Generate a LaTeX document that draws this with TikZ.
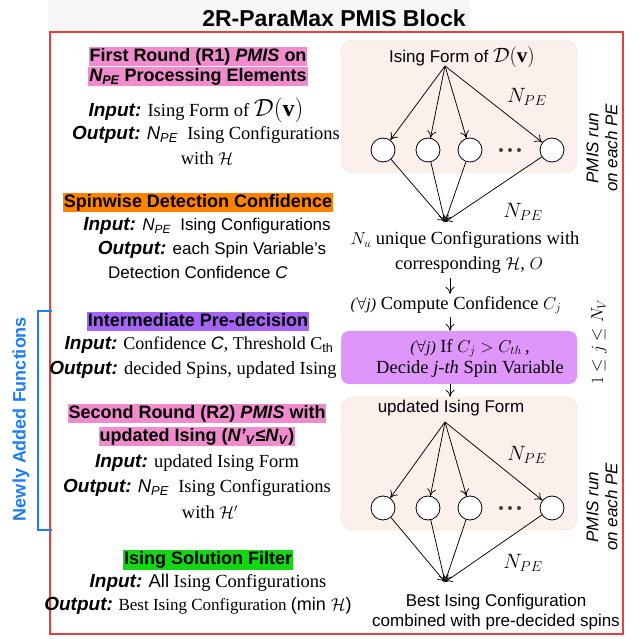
\documentclass[tikz,border=0pt]{standalone}
\usepackage{amsmath}
\usepackage{amssymb}
\usepackage{fontspec}
\setmainfont{Liberation Serif}
\setsansfont{Liberation Sans}
\usepackage{tikz}
\usetikzlibrary{arrows, arrows.meta}
\definecolor{hlpink}{RGB}{240,140,205}
\definecolor{hlorange}{RGB}{255,130,0}
\definecolor{hlpurple}{RGB}{165,100,245}
\definecolor{hlgreen}{RGB}{20,215,20}
\definecolor{decfill}{RGB}{222,150,250}
\definecolor{pefill}{RGB}{252,240,237}
\definecolor{pedraw}{RGB}{242,222,218}
\definecolor{framered}{RGB}{232,62,62}
\definecolor{newblue}{RGB}{30,125,240}
\definecolor{titlebg}{RGB}{246,246,246}
\newcommand{\iolbl}[1]{{\sffamily\bfseries\itshape\fontsize{19}{22}\selectfont #1}}
\newcommand{\npe}{{\sffamily\itshape N\textsubscript{PE}}}
\newcommand{\bigD}[1]{{\fontsize{#1}{#1}\selectfont$\mathcal{D}(\mathbf{v})$}}
\newcommand{\hdfont}{\sffamily\bfseries\fontsize{18}{20}\selectfont}
\newcommand{\serfont}{\rmfamily\fontsize{18.5}{22}\selectfont}
\newcommand{\sanfont}{\sffamily\fontsize{17}{20}\selectfont}
\newcommand{\rsfont}{\rmfamily\fontsize{18.5}{21}\selectfont}
\tikzset{
	head/.style = {
		fill=#1,
		inner xsep=1pt,
		inner ysep=1pt,
		text height=13pt,
		text depth=4pt,
		font=\hdfont
	},
	body/.style = {
		inner sep=0pt,
		font=\serfont
	},
	sbody/.style = {
		inner sep=0pt,
		font=\sanfont
	},
	rbody/.style = {
		inner sep=0pt,
		font=\rsfont
	},
	pe/.style = {
		draw,
		line width=0.8pt,
		circle,
		fill=white,
		minimum size=24pt,
		inner sep=0pt
	},
	peblock/.style = {
		draw=pedraw,
		fill=pefill,
		rounded corners=12pt,
		minimum width=236pt,
		minimum height=133pt
	},
	decbox/.style = {
		fill=decfill,
		rounded corners=8pt,
		minimum width=236pt,
		minimum height=53pt
	},
	npelabel/.style = {
		inner sep=0pt,
		font=\fontsize{20}{22}\selectfont
	},
	runlabel/.style = {
		rotate=90,
		align=center,
		inner sep=0pt,
		font=\sffamily\itshape\fontsize{17}{19}\selectfont
	}
}
\tikzstyle{flow} = [->, >={To[length=7pt,width=9pt]}, line width=0.75pt]

\begin{document}
\begin{tikzpicture}[x=1pt,y=-1pt]
		\useasboundingbox (0,0) rectangle (641,639);
		\fill[titlebg] (48,0) rectangle (470,31);
		\node[inner sep=0pt, font=\sffamily\bfseries\fontsize{23}{25}\selectfont] (title) at (334,18) {2R-ParaMax PMIS Block};
		\draw[framered, line width=2pt] (50,32) rectangle (623,634);

		\node[rotate=90, inner sep=0pt, text=newblue, font=\hdfont] (newly) at (21,419) {Newly Added Functions};
		\draw[newblue, line width=2pt] (52,311) -- (38,311) -- (38,530) -- (52,530);

		\node[head=hlpink] (r1a) at (198,57) {First Round (R1) \textit{PMIS} on};
		\node[head=hlpink] (r1b) at (198,77) {\npe\ Processing Elements};
		\node[body] (r1in) at (196,110) {\iolbl{Input:} Ising Form of \bigD{24}};
		\node[body] (r1out) at (206,135) {\iolbl{Output:} \npe~ Ising Configurations};
		\node[body] (r1with) at (207,158) {with $\mathcal{H}$};

		\node[head=hlorange] (sdc) at (198,203) {Spinwise Detection Confidence};
		\node[sbody] (sdcin) at (207,226) {\iolbl{Input:} \npe~ Ising Configurations};
		\node[sbody] (sdcout) at (212,250) {\iolbl{Output:} each Spin Variable's};
		\node[sbody] (sdcconf) at (198,272) {Detection Confidence \textit{C}};

		\node[head=hlpurple] (ipd) at (198,322) {Intermediate Pre-decision};
		\node[body, font=\rmfamily\fontsize{18}{20}\selectfont] (ipdin) at (199,345) {\iolbl{Input:} Confidence {\sffamily\itshape C}, Threshold C{\sffamily\textsubscript{th}}};
		\node[body] (ipdout) at (193,370) {\iolbl{Output:} decided Spins, updated Ising};

		\node[head=hlpink] (r2a) at (197,414) {Second Round (R2) \textit{PMIS} with};
		\node[head=hlpink] (r2b) at (197,437) {updated Ising (\textit{N'}\textsubscript{\textit{V}}≤\textit{N}\textsubscript{\textit{V}})};
		\node[body] (r2in) at (197,463) {\iolbl{Input:} updated Ising Form};
		\node[body] (r2out) at (197,488) {\iolbl{Output:} \npe~ Ising Configurations};
		\node[body] (r2with) at (210,512) {with $\mathcal{H}'$};

		\node[head=hlgreen] (isf) at (208,560) {Ising Solution Filter};
		\node[body] (isfin) at (208,583) {\iolbl{Input:} {\sffamily All} Ising Configurations};
		\node[body, font=\rmfamily\fontsize{17}{20}\selectfont] (isfout) at (198,606) {\iolbl{Output:} Best Ising Configuration {\sffamily\fontsize{18}{20}\selectfont (min $\mathcal{H}$)}};

		\node[peblock] (blk1) at (459,106.5) {};
		\node[sbody] (form1) at (462,57) {Ising Form of \bigD{21}};
		\coordinate (src1) at (445,66);
		\coordinate (axis) at (450,300);
		\node[pe] (a1) at (383,150) {};
		\node[pe] (b1) at (428,150) {};
		\node[pe] (c1) at (470,150) {};
		\node[pe] (d1) at (552,150) {};
		\fill[black!75] (501,150) circle (2pt) (510,150) circle (2pt) (519,150) circle (2pt);
		\coordinate (snk1) at (445,222);
		\draw[flow] (src1) -- (a1);
		\draw[flow] (src1) -- (b1);
		\draw[flow] (src1) -- (c1);
		\draw[flow] (src1) -- (d1);
		\draw[flow] (a1) -- (snk1);
		\draw[flow] (b1) -- (snk1);
		\draw[flow] (c1) -- (snk1);
		\draw[flow] (d1) -- (snk1);
		\node[npelabel] (n1a) at (527,97) {$N_{PE}$};
		\node[npelabel] (n1b) at (523,212) {$N_{PE}$};
		\node[runlabel] (run1) at (602,148) {PMIS run\\on each PE};

		\node[rbody] (uniq) at (465,240) {$N_u$ unique Configurations with};
		\node[rbody] (corr) at (469,265) {corresponding $\mathcal{H}$, $O$};
		\node[rbody] (comp) at (456,305) {{\fontsize{16}{16}\selectfont\textit{(}$\forall$\textit{j)}} Compute Confidence $C_j$};
		\node[decbox] (dec) at (459,357.5) {};
		\node[rbody, align=center] (dectxt) at (470,358) {{\fontsize{16}{16}\selectfont\textit{(}$\forall$\textit{j)}} If $C_j > C_{th}$\,,\\Decide \textit{j-th} Spin Variable};
		\node[rotate=90, inner sep=0pt, font=\fontsize{18}{20}\selectfont] (jrange) at (599,342) {$1 \le j \le N_V$};
		\draw[flow, shorten <=4pt, shorten >=2pt] (corr.south -| axis) -- (comp.north -| axis);
		\draw[flow, shorten <=3pt] (comp.south -| axis) -- (dec.north -| axis);

		\node[peblock] (blk2) at (459,463.5) {};
		\draw[flow] (dec.south -| axis) -- (blk2.north -| axis);
		\node[sbody] (form2) at (451,408) {updated Ising Form};
		\coordinate (src2) at (445,422);
		\node[pe] (a2) at (383,508) {};
		\node[pe] (b2) at (428,508) {};
		\node[pe] (c2) at (470,508) {};
		\node[pe] (d2) at (552,508) {};
		\fill[black!75] (501,508) circle (2pt) (510,508) circle (2pt) (519,508) circle (2pt);
		\coordinate (snk2) at (445,582);
		\draw[flow] (src2) -- (a2);
		\draw[flow] (src2) -- (b2);
		\draw[flow] (src2) -- (c2);
		\draw[flow] (src2) -- (d2);
		\draw[flow] (a2) -- (snk2);
		\draw[flow] (b2) -- (snk2);
		\draw[flow] (c2) -- (snk2);
		\draw[flow] (d2) -- (snk2);
		\node[npelabel] (n2a) at (527,455) {$N_{PE}$};
		\node[npelabel] (n2b) at (523,563) {$N_{PE}$};
		\node[runlabel] (run2) at (602,507) {PMIS run\\on each PE};

		\node[sbody, align=center] (best) at (496,612) {Best Ising Configuration\\combined with pre-decided spins};
\end{tikzpicture}
\end{document}
